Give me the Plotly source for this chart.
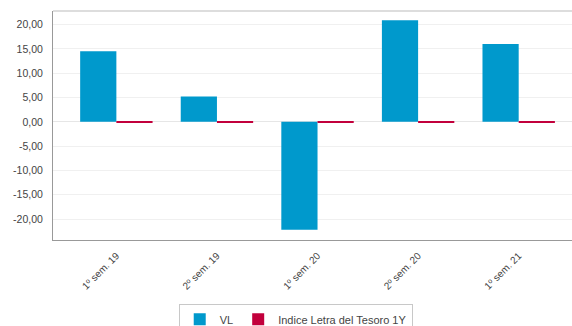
import plotly.graph_objects as go

# Semester returns (%) for the fund and its benchmark
categories = ["1º sem. 19", "2º sem. 19", "1º sem. 20", "2º sem. 20", "1º sem. 21"]
vl_values = [14.5, 5.2, -22.2, 20.9, 16.0]
letra_values = [-0.15, -0.1, -0.08, -0.15, -0.15]

y_tick_vals = [20, 15, 10, 5, 0, -5, -10, -15, -20]
y_tick_text = ["20,00", "15,00", "10,00", "5,00", "0,00", "-5,00", "-10,00", "-15,00", "-20,00"]

BLUE = "#0099CC"
RED = "#C2003C"
FONT = "Liberation Sans, Arial, sans-serif"

fig = go.Figure()
fig.add_trace(go.Bar(x=categories, y=vl_values, name="VL", marker=dict(color=BLUE, line=dict(width=0))))
fig.add_trace(go.Bar(x=categories, y=letra_values, name="Indice Letra del Tesoro 1Y",
                     marker=dict(color=RED, line=dict(width=0))))

fig.update_layout(
    width=572, height=326,
    margin=dict(l=53, r=0, t=11, b=86, autoexpand=False),
    paper_bgcolor="white", plot_bgcolor="white",
    barmode="group", bargap=0.28, bargroupgap=0,
    font=dict(family=FONT, size=10, color="#444"),
    showlegend=True,
    legend=dict(orientation="h", x=0.517, xref="container", xanchor="center",
                y=0.068, yref="container", yanchor="top",
                bordercolor="#c8c8c8", borderwidth=1, font=dict(size=11, color="#444"),
                itemwidth=30, tracegroupgap=0),
    xaxis=dict(range=[-0.63, 4.53], showgrid=False, zeroline=False, automargin=False,
               showline=True, linecolor="#999", linewidth=1, mirror=False,
               tickangle=-45, ticks="", ticklabelstandoff=5, tickfont=dict(size=10, color="#444")),
    yaxis=dict(range=[-24.3, 22.8], tickvals=y_tick_vals, ticktext=y_tick_text, automargin=False,
               showgrid=True, gridcolor="#f0f0f0", gridwidth=1,
               zeroline=True, zerolinecolor="#e6e6e6", zerolinewidth=1,
               showline=True, linecolor="#999", linewidth=1, ticks="",
               ticklabelstandoff=7, tickfont=dict(size=10.5, color="#444")),
    shapes=[dict(type="line", xref="paper", yref="paper", x0=0, x1=1, y0=1, y1=1,
                 line=dict(color="#bbb", width=1), layer="above")],
)

fig.write_html("out.html")
